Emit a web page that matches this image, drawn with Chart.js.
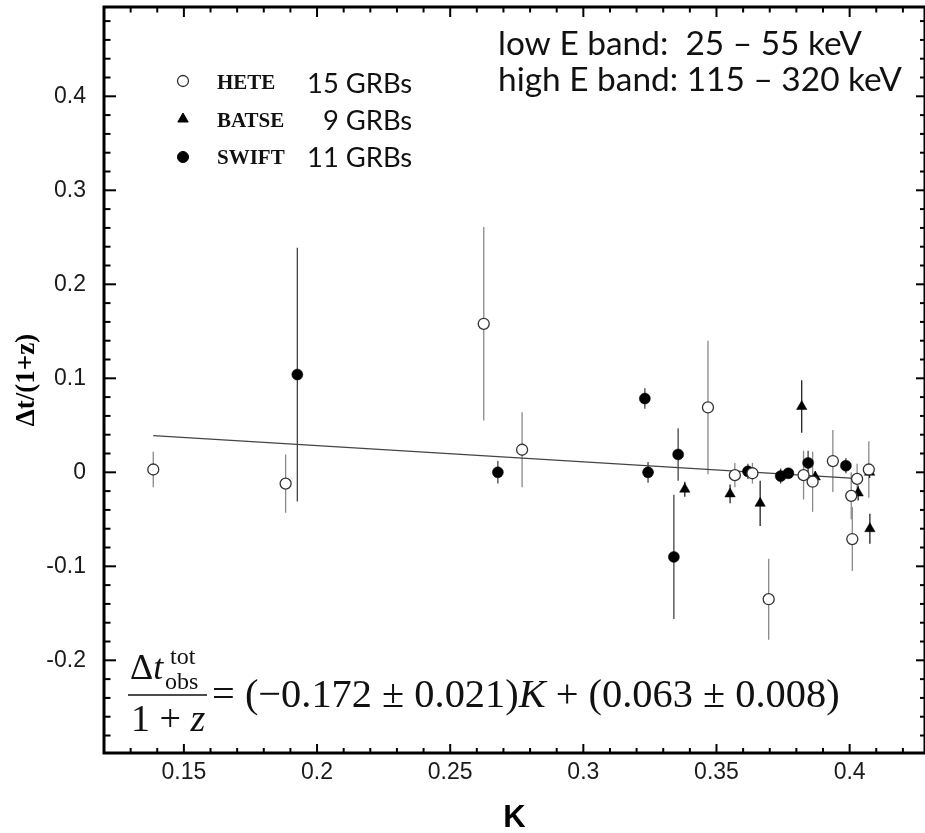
<!DOCTYPE html>
<html>
<head>
<meta charset="utf-8">
<script src="https://cdn.jsdelivr.net/npm/chart.js@4.4.1/dist/chart.umd.min.js"></script>
<style>
  html, body { margin: 0; padding: 0; background: #fff; }
  #wrap { width: 925px; height: 833px; }
</style>
</head>
<body>
<div id="wrap"><canvas id="lagChart" width="925" height="833"></canvas></div>
<script>
// ---- values ----
const heteK   = [0.1385, 0.1882, 0.2626, 0.2770, 0.3468, 0.3569, 0.3635, 0.3696, 0.3827, 0.3861, 0.3937, 0.4006, 0.4010, 0.4028, 0.4072];
const heteDt  = [0.003, -0.012, 0.158, 0.024, 0.069, -0.003, -0.001, -0.135, -0.003, -0.010, 0.012, -0.025, -0.071, -0.007, 0.003];
const heteErr = [0.019, 0.031, 0.103, 0.040, 0.071, 0.013, 0.011, 0.043, 0.026, 0.032, 0.033, 0.025, 0.034, 0.016, 0.030];

const batseK   = [0.3381, 0.3551, 0.3664, 0.3820, 0.3871, 0.4032, 0.4075, 0.4076];
const batseDt  = [-0.018, -0.023, -0.033, 0.070, -0.005, -0.022, 0.000, -0.060];
const batseErr = [0.008, 0.010, 0.024, 0.028, 0.006, 0.008, 0.006, 0.016];

const swiftK   = [0.1926, 0.2679, 0.3231, 0.3243, 0.3340, 0.3356, 0.3618, 0.3741, 0.3770, 0.3844, 0.3986];
const swiftDt  = [0.104, 0.000, 0.0785, 0.000, -0.090, 0.019, 0.001, -0.004, -0.001, 0.010, 0.007];
const swiftErr = [0.135, 0.012, 0.011, 0.011, 0.066, 0.028, 0.008, 0.008, 0.005, 0.013, 0.008];

// fitted line, end points
const fitK  = [0.1385, 0.405];
const fitDt = [0.039, -0.007];

const xTickVals   = [0.15, 0.2, 0.25, 0.3, 0.35, 0.4];
const xTickLabels = ["0.15", "0.2", "0.25", "0.3", "0.35", "0.4"];
const yTickVals   = [-0.2, -0.1, 0, 0.1, 0.2, 0.3, 0.4];
const yTickLabels = ["-0.2", "-0.1", "0", "0.1", "0.2", "0.3", "0.4"];

const xTitle = "K";
const yTitle = "\u0394t/(1+z)";
const legendNames  = ["HETE", "BATSE", "SWIFT"];
const legendCounts = ["15 GRBs", "9 GRBs", "11 GRBs"];
const bandLines    = ["low E band:  25 \u2013 55 keV", "high E band: 115 \u2013 320 keV"];

// minor tick marks (every 0.01 in K, 0.02 in dt)
const xMinor = [];
for (let i = 13; i <= 42; i++) xMinor.push(i / 100);
const yMinor = [];
for (let i = -14; i <= 24; i++) yMinor.push(i / 50);

const SERIF = "'Liberation Serif', 'Times New Roman', serif";
const SANS = "'Liberation Sans', Arial, sans-serif";
const CALI = "Lato, 'Open Sans', sans-serif";

function toPoints(xs, ys) {
  return xs.map((x, i) => ({ x, y: ys[i] }));
}

function isMajor(list, v) {
  return list.some(m => Math.abs(m - v) < 1e-6);
}

// font size that makes text span a given width
function fitSize(ctx, text, style, family, width) {
  ctx.font = `${style} 100px ${family}`;
  return 100 * width / ctx.measureText(text).width;
}

const errorBarPlugin = {
  id: "errorBars",
  beforeDatasetsDraw(chart) {
    const { ctx, scales: { x, y } } = chart;
    chart.data.datasets.forEach(ds => {
      if (!ds.errors) return;
      ctx.save();
      ctx.strokeStyle = ds.errorColor;
      ctx.lineWidth = 1.3;
      ds.data.forEach((p, i) => {
        const px = x.getPixelForValue(p.x);
        ctx.beginPath();
        ctx.moveTo(px, y.getPixelForValue(p.y + ds.errors[i]));
        ctx.lineTo(px, y.getPixelForValue(p.y - ds.errors[i]));
        ctx.stroke();
      });
      ctx.restore();
    });
  }
};

// frame, inward ticks and axis labels
const framePlugin = {
  id: "frame",
  afterDatasetsDraw(chart) {
    const { ctx, chartArea: a, scales: { x, y } } = chart;
    const line = (x0, y0, x1, y1) => {
      ctx.beginPath();
      ctx.moveTo(x0, y0);
      ctx.lineTo(x1, y1);
      ctx.stroke();
    };
    ctx.save();
    ctx.strokeStyle = "#000";
    ctx.lineWidth = 2;
    xMinor.forEach(v => {
      const px = x.getPixelForValue(v);
      const major = isMajor(xTickVals, v);
      line(px, a.bottom, px, a.bottom - (major ? 9 : 5));
      line(px, a.top, px, a.top + (major ? 10 : 5.5));
    });
    yMinor.forEach(v => {
      const py = y.getPixelForValue(v);
      const major = isMajor(yTickVals, v);
      line(a.left, py, a.left + (major ? 12 : 6.5), py);
      line(a.right, py, a.right - (major ? 9 : 5), py);
    });
    ctx.lineWidth = 3;
    ctx.strokeRect(a.left, a.top, a.right - a.left, a.bottom - a.top);

    // tick labels
    ctx.fillStyle = "#1a1a1a";
    ctx.font = `23px ${SANS}`;
    ctx.textAlign = "center";
    ctx.textBaseline = "middle";
    xTickVals.forEach((v, i) => ctx.fillText(xTickLabels[i], x.getPixelForValue(v), a.bottom + 20));
    ctx.textAlign = "right";
    yTickVals.forEach((v, i) => ctx.fillText(yTickLabels[i], a.left - 18, y.getPixelForValue(v)));

    // axis titles
    ctx.fillStyle = "#000";
    ctx.textAlign = "center";
    ctx.font = `bold 31px ${SANS}`;
    ctx.fillText(xTitle, (a.left + a.right) / 2, 818);
    ctx.translate(27, (a.top + a.bottom) / 2);
    ctx.rotate(-Math.PI / 2);
    ctx.font = `bold 27px ${SERIF}`;
    ctx.fillText(yTitle, 0, 0);
    ctx.restore();
  }
};

function drawFormula(ctx) {
  ctx.save();
  ctx.fillStyle = "#111";
  ctx.strokeStyle = "#111";
  ctx.textAlign = "left";
  ctx.textBaseline = "alphabetic";

  // numerator
  ctx.font = `36px ${SERIF}`;
  ctx.fillText("\u0394", 130, 679);
  const dW = ctx.measureText("\u0394").width;
  ctx.font = `italic 36px ${SERIF}`;
  ctx.fillText("t", 130 + dW, 679);
  ctx.font = `24px ${SERIF}`;
  ctx.fillText("tot", 170, 664);
  ctx.fillText("obs", 165, 689);

  // fraction bar
  ctx.lineWidth = 1.6;
  ctx.beginPath();
  ctx.moveTo(128, 695);
  ctx.lineTo(207, 695);
  ctx.stroke();

  // denominator
  ctx.font = `38px ${SERIF}`;
  ctx.fillText("1 + ", 131, 731);
  const oW = ctx.measureText("1 + ").width;
  ctx.font = `italic 38px ${SERIF}`;
  ctx.fillText("z", 131 + oW, 731);

  // right hand side
  const partA = "= (\u22120.172 \u00b1 0.021)";
  const partK = "K";
  const partB = " + (0.063 \u00b1 0.008)";
  const size = fitSize(ctx, partA + partK + partB, "", SERIF, 630);
  let px = 212;
  ctx.font = `${size}px ${SERIF}`;
  ctx.fillText(partA, px, 707);
  px += ctx.measureText(partA).width;
  ctx.font = `italic ${size}px ${SERIF}`;
  ctx.fillText(partK, px, 707);
  px += ctx.measureText(partK).width;
  ctx.font = `${size}px ${SERIF}`;
  ctx.fillText(partB, px, 707);
  ctx.restore();
}

const textPlugin = {
  id: "annotations",
  afterDraw(chart) {
    const { ctx } = chart;
    ctx.save();

    // legend markers
    const markers = [
      { pointStyle: "circle", radius: 5.5, borderWidth: 1.3, fill: "#fff", stroke: "#333", y: 81 },
      { pointStyle: "triangle", radius: 6, borderWidth: 1, fill: "#000", stroke: "#000", y: 119 },
      { pointStyle: "circle", radius: 5.5, borderWidth: 1, fill: "#000", stroke: "#000", y: 157 }
    ];
    markers.forEach(m => {
      ctx.fillStyle = m.fill;
      ctx.strokeStyle = m.stroke;
      ctx.lineWidth = m.borderWidth;
      Chart.helpers.drawPoint(ctx, { pointStyle: m.pointStyle, radius: m.radius, rotation: 0, borderWidth: m.borderWidth }, 183, m.y);
    });

    ctx.fillStyle = "#111";
    ctx.textBaseline = "alphabetic";
    ctx.textAlign = "left";
    ctx.font = `bold 21px ${SERIF}`;
    [89, 126.5, 163.5].forEach((by, i) => ctx.fillText(legendNames[i], 217, by));

    ctx.textAlign = "right";
    const cSize = fitSize(ctx, legendCounts[0], "", CALI, 105);
    ctx.font = `${cSize}px ${CALI}`;
    [92.5, 129.5, 166.5].forEach((by, i) => ctx.fillText(legendCounts[i], 412, by));

    // energy bands
    ctx.textAlign = "left";
    const bSize = fitSize(ctx, bandLines[1], "", CALI, 404);
    ctx.font = `${bSize}px ${CALI}`;
    ctx.fillText(bandLines[0], 498, 55);
    ctx.fillText(bandLines[1], 498, 90.5);

    drawFormula(ctx);
    ctx.restore();
  }
};

const ctx = document.getElementById("lagChart").getContext("2d");

new Chart(ctx, {
  type: "scatter",
  data: {
    datasets: [
      {
        label: "HETE",
        data: toPoints(heteK, heteDt),
        errors: heteErr,
        errorColor: "#8a8a8a",
        pointStyle: "circle",
        pointRadius: 5.5,
        pointBorderWidth: 1.3,
        pointBackgroundColor: "#ffffff",
        pointBorderColor: "#333333"
      },
      {
        label: "BATSE",
        data: toPoints(batseK, batseDt),
        errors: batseErr,
        errorColor: "#222222",
        pointStyle: "triangle",
        pointRadius: 6,
        pointBorderWidth: 0.5,
        pointBackgroundColor: "#000000",
        pointBorderColor: "#000000"
      },
      {
        label: "SWIFT",
        data: toPoints(swiftK, swiftDt),
        errors: swiftErr,
        errorColor: "#444444",
        pointStyle: "circle",
        pointRadius: 5.5,
        pointBorderWidth: 0.5,
        pointBackgroundColor: "#000000",
        pointBorderColor: "#000000"
      },
      {
        type: "line",
        label: "fit",
        data: toPoints(fitK, fitDt),
        borderColor: "#444444",
        borderWidth: 1.3,
        pointRadius: 0,
        fill: false
      }
    ]
  },
  options: {
    responsive: false,
    animation: false,
    layout: { autoPadding: false, padding: { top: 7, right: -1, left: 104, bottom: 80 } },
    plugins: {
      legend: { display: false },
      tooltip: { enabled: false }
    },
    scales: {
      x: { type: "linear", display: false, min: 0.12, max: 0.4283 },
      y: { type: "linear", display: false, min: -0.2986, max: 0.495 }
    }
  },
  plugins: [errorBarPlugin, framePlugin, textPlugin]
});
</script>
</body>
</html>
